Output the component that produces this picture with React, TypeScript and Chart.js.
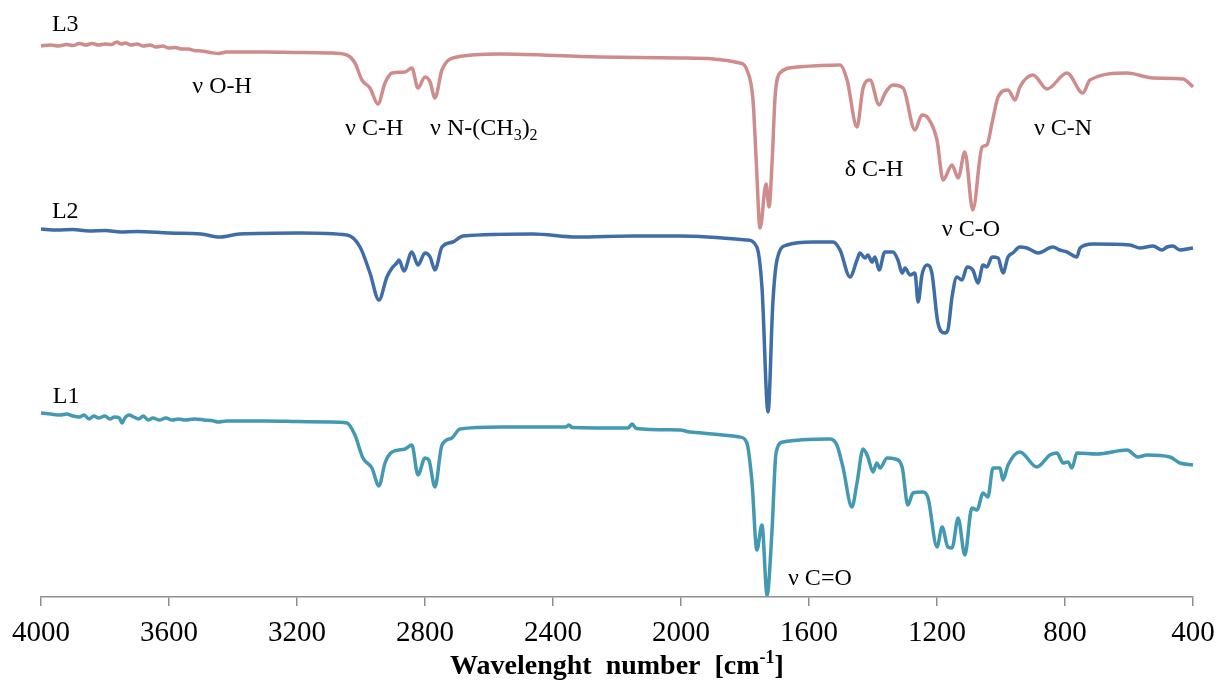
import { useEffect, useRef } from 'react';
import { Chart, registerables } from 'chart.js';

Chart.register(...registerables);

// FTIR spectra of three samples, stacked with a vertical offset (arbitrary units).
// Each pair is [wavenumber in cm-1, offset transmittance].
const wavenumberTicks = [4000, 3600, 3200, 2800, 2400, 2000, 1600, 1200, 800, 400];

const spectrumL3: [number, number][] = [
  [4000, 110.2], [3970, 110.4], [3945, 110.2], [3920, 110.5], [3900, 110.3], [3880, 110.7],
  [3860, 110.4], [3840, 110.7], [3820, 110.4], [3800, 110.6], [3780, 110.5], [3763, 111.0],
  [3750, 110.6], [3735, 110.8], [3720, 110.4], [3700, 110.6], [3680, 110.2], [3660, 110.4],
  [3640, 110.0], [3620, 110.2], [3600, 109.8], [3580, 109.9], [3560, 109.6], [3540, 109.6],
  [3520, 109.3], [3500, 109.2], [3470, 108.9], [3445, 108.7], [3420, 109.0], [3380, 109.0],
  [3300, 109.0], [3200, 108.9], [3100, 108.8], [3044, 108.4], [3019, 106.8], [2997, 103.4],
  [2972, 101.8], [2947, 98.6], [2925, 102.8], [2903, 104.8], [2863, 105.0], [2841, 105.8],
  [2822, 101.8], [2800, 104.0], [2784, 103.0], [2769, 99.8], [2747, 105.4], [2700, 108.0],
  [2566, 108.6], [2253, 108.0], [2003, 107.8], [1816, 106.8], [1794, 105.4], [1775, 99.4],
  [1765, 87.4], [1753, 73.8], [1734, 82.6], [1725, 78.0], [1715, 87.4], [1706, 100.0],
  [1691, 104.8], [1637, 106.0], [1503, 106.4], [1481, 103.4], [1450, 94.0], [1431, 101.8],
  [1409, 103.4], [1381, 98.4], [1362, 100.8], [1338, 102.4], [1306, 101.8], [1269, 93.4],
  [1247, 96.4], [1228, 95.8], [1200, 91.4], [1181, 83.4], [1153, 86.4], [1134, 83.8],
  [1113, 89.0], [1088, 77.4], [1059, 90.0], [1044, 90.4], [1028, 94.8], [1009, 100.0],
  [978, 101.4], [956, 99.4], [941, 102.0], [900, 104.4], [856, 101.6], [794, 104.8],
  [744, 100.8], [722, 103.4], [606, 104.8], [525, 103.8], [431, 103.6], [400, 102.0],
];

const spectrumL2: [number, number][] = [
  [4000, 73.6], [3950, 73.4], [3900, 73.5], [3850, 73.2], [3800, 73.3], [3750, 73.0],
  [3700, 73.1], [3600, 72.8], [3500, 72.6], [3441, 72.0], [3380, 72.6], [3191, 72.8],
  [3044, 72.4], [3003, 70.0], [2972, 64.8], [2944, 59.4], [2919, 64.0], [2903, 65.8],
  [2888, 66.8], [2881, 67.4], [2866, 65.2], [2841, 69.0], [2822, 66.4], [2800, 68.8],
  [2784, 68.0], [2769, 65.4], [2747, 70.0], [2713, 71.0], [2681, 72.2], [2463, 72.6],
  [2325, 72.0], [2150, 72.2], [2003, 72.2], [1794, 71.4], [1763, 70.0], [1747, 62.0],
  [1728, 37.0], [1713, 58.8], [1700, 67.4], [1669, 70.4], [1588, 71.0], [1525, 71.0],
  [1503, 69.4], [1472, 64.0], [1450, 67.4], [1441, 68.8], [1425, 67.8], [1416, 68.4],
  [1403, 67.0], [1394, 68.0], [1381, 65.4], [1363, 69.0], [1338, 69.0], [1322, 67.4],
  [1309, 64.8], [1300, 65.8], [1284, 64.4], [1269, 64.8], [1259, 59.0], [1247, 64.4],
  [1231, 66.4], [1216, 64.8], [1197, 54.8], [1175, 52.8], [1166, 53.4], [1153, 60.0],
  [1138, 64.0], [1122, 63.4], [1106, 66.0], [1088, 65.4], [1072, 62.8], [1056, 66.4],
  [1044, 66.0], [1028, 68.0], [1009, 67.8], [994, 64.8], [978, 68.0], [963, 68.8],
  [941, 70.0], [919, 69.8], [884, 68.8], [838, 70.0], [816, 69.4], [794, 69.0],
  [763, 68.0], [753, 69.8], [713, 70.6], [597, 70.4], [566, 69.8], [525, 70.2],
  [497, 69.4], [481, 70.0], [463, 70.2], [441, 69.4], [400, 69.8],
];

const spectrumL1: [number, number][] = [
  [4000, 36.8], [3970, 36.6], [3940, 36.4], [3920, 36.6], [3900, 36.2], [3880, 36.0],
  [3865, 36.4], [3850, 35.6], [3835, 36.2], [3820, 35.8], [3800, 36.2], [3785, 35.6],
  [3770, 36.0], [3755, 35.8], [3747, 34.8], [3738, 35.8], [3725, 36.4], [3710, 36.0],
  [3695, 35.6], [3680, 36.2], [3665, 35.4], [3650, 35.8], [3630, 35.4], [3610, 35.8],
  [3590, 35.4], [3570, 35.6], [3550, 35.4], [3520, 35.6], [3490, 35.4], [3460, 35.2],
  [3447, 35.0], [3420, 35.2], [3380, 35.2], [3300, 35.2], [3200, 35.1], [3100, 35.0],
  [3044, 34.8], [3019, 32.4], [2994, 27.8], [2966, 25.8], [2944, 22.2], [2925, 26.8],
  [2903, 29.0], [2863, 29.6], [2841, 30.4], [2822, 24.4], [2800, 27.8], [2788, 27.4],
  [2769, 22.0], [2747, 30.4], [2716, 31.8], [2691, 33.6], [2566, 34.0], [2360, 34.0],
  [2350, 34.4], [2340, 33.9], [2165, 33.8], [2153, 34.6], [2140, 33.7], [2003, 33.4],
  [1972, 33.0], [1816, 32.0], [1794, 30.8], [1778, 22.8], [1763, 9.4], [1747, 14.4],
  [1731, 0.4], [1716, 12.8], [1703, 28.8], [1681, 31.0], [1534, 31.6], [1513, 30.4],
  [1494, 26.0], [1466, 18.0], [1450, 22.8], [1431, 29.6], [1416, 28.0], [1400, 25.0],
  [1388, 26.8], [1378, 25.8], [1356, 27.8], [1331, 27.6], [1309, 26.0], [1291, 18.4],
  [1275, 20.8], [1244, 21.0], [1228, 19.8], [1200, 10.0], [1184, 14.0], [1166, 10.0],
  [1153, 9.8], [1134, 15.8], [1113, 8.4], [1091, 17.8], [1075, 17.4], [1056, 20.8],
  [1041, 20.0], [1025, 25.8], [1003, 25.8], [994, 23.4], [978, 26.4], [941, 29.0],
  [888, 26.0], [847, 28.4], [825, 28.8], [806, 26.8], [791, 27.0], [778, 25.8],
  [763, 28.8], [700, 28.6], [606, 29.4], [572, 28.0], [544, 28.4], [472, 28.0],
  [441, 26.8], [400, 26.4],
];

const seriesNames = ['L3', 'L2', 'L1'];
const seriesColors = ['#CF8C8C', '#3F6DA8', '#4399B2'];

// Band assignments and sample names placed in data coordinates.
// "_d" renders d as a subscript, "^-1" as a superscript.
const noteTexts = ['L3', 'L2', 'L1', 'ν O-H', 'ν C-H', 'ν N-(CH_3)_2', 'δ C-H', 'ν C-O', 'ν C-N', 'ν C=O'];
const noteWavenumbers = [3966, 3966, 3963, 3434, 2959, 2784, 1397, 1094, 806, 1566];
const noteValues = [114.4, 77, 40, 102, 93.6, 93.6, 85.4, 73.4, 93.6, 3.6];
const noteAligns = ['left', 'left', 'left', 'center', 'center', 'left', 'center', 'center', 'center', 'center'];

const axisTitle = 'Wavelenght  number  [cm^-1]';

const SERIF = '"Liberation Serif", "Times New Roman", serif';

type Part = { text: string; kind: 'normal' | 'sub' | 'sup' };

function parseRich(text: string): Part[] {
  const parts: Part[] = [];
  const re = /_(\d)|\^(-?\d+)/g;
  let last = 0;
  let m: RegExpExecArray | null;
  while ((m = re.exec(text)) !== null) {
    if (m.index > last) parts.push({ text: text.slice(last, m.index), kind: 'normal' });
    if (m[1] !== undefined) parts.push({ text: m[1], kind: 'sub' });
    else parts.push({ text: m[2], kind: 'sup' });
    last = re.lastIndex;
  }
  if (last < text.length) parts.push({ text: text.slice(last), kind: 'normal' });
  return parts;
}

function drawRich(
  ctx: CanvasRenderingContext2D,
  text: string,
  x: number,
  y: number,
  align: string,
  size: number,
  weight: string,
) {
  const parts = parseRich(text);
  const small = Math.round(size * 0.66);
  const fontFor = (p: Part) => `${weight} ${p.kind === 'normal' ? size : small}px ${SERIF}`;
  let total = 0;
  const widths = parts.map((p) => {
    ctx.font = fontFor(p);
    const w = ctx.measureText(p.text).width;
    total += w;
    return w;
  });
  let cx = align === 'left' ? x : align === 'right' ? x - total : x - total / 2;
  ctx.textAlign = 'left';
  ctx.textBaseline = 'middle';
  parts.forEach((p, i) => {
    ctx.font = fontFor(p);
    const dy = p.kind === 'sub' ? size * 0.3 : p.kind === 'sup' ? -size * 0.32 : 0;
    ctx.fillText(p.text, cx, y + dy);
    cx += widths[i];
  });
}

const notesPlugin = {
  id: 'spectrumNotes',
  afterDraw(chart: any) {
    const { ctx, scales, chartArea } = chart;
    const xs = scales.x;
    const ys = scales.y;
    ctx.save();
    ctx.fillStyle = '#000';
    noteTexts.forEach((t, i) => {
      drawRich(ctx, t, xs.getPixelForValue(noteWavenumbers[i]), ys.getPixelForValue(noteValues[i]), noteAligns[i], 24, 'normal');
    });
    drawRich(ctx, axisTitle, (chartArea.left + chartArea.right) / 2, chartArea.bottom + 70, 'center', 28, 'bold');
    ctx.restore();
  },
};

export default function App() {
  const canvasRef = useRef<HTMLCanvasElement | null>(null);

  useEffect(() => {
    const canvas = canvasRef.current;
    if (!canvas) return;
    const spectra = [spectrumL3, spectrumL2, spectrumL1];
    const chart = new Chart(canvas, {
      type: 'line',
      data: {
        datasets: spectra.map((s, i) => ({
          label: seriesNames[i],
          data: s.map(([x, y]) => ({ x, y })),
          borderColor: seriesColors[i],
          backgroundColor: seriesColors[i],
          borderWidth: 3.5,
          pointRadius: 0,
          cubicInterpolationMode: 'monotone' as const,
          clip: false as any,
        })),
      },
      options: {
        responsive: false,
        animation: false,
        devicePixelRatio: 1,
        layout: { padding: { left: 41, right: 25, top: 17, bottom: 0 } },
        plugins: { legend: { display: false }, tooltip: { enabled: false } },
        scales: {
          x: {
            type: 'linear',
            reverse: true,
            min: 400,
            max: 4000,
            afterBuildTicks: (scale: any) => {
              scale.ticks = wavenumberTicks.map((v) => ({ value: v }));
            },
            afterFit: (scale: any) => {
              // Fixed axis band; the end labels may overhang the side margins.
              scale.height = 87;
              scale.paddingLeft = 0;
              scale.paddingRight = 0;
            },
            ticks: {
              color: '#000',
              font: { family: SERIF, size: 29 },
              padding: 10,
              maxRotation: 0,
              autoSkip: false,
              callback: (v: any) => String(v),
            },
            grid: {
              display: true,
              drawOnChartArea: false,
              drawTicks: true,
              tickLength: 9,
              color: '#8e8e8e',
              lineWidth: 1.5,
            },
            border: { display: true, color: '#8e8e8e', width: 1.5 },
          },
          y: { display: false, min: 0, max: 116 },
        },
      },
      plugins: [notesPlugin],
    });
    return () => chart.destroy();
  }, []);

  return (
    <div style={{ position: 'absolute', left: 0, top: 0, width: 1218, height: 684, background: '#fff' }}>
      <canvas ref={canvasRef} width={1218} height={684} />
    </div>
  );
}
